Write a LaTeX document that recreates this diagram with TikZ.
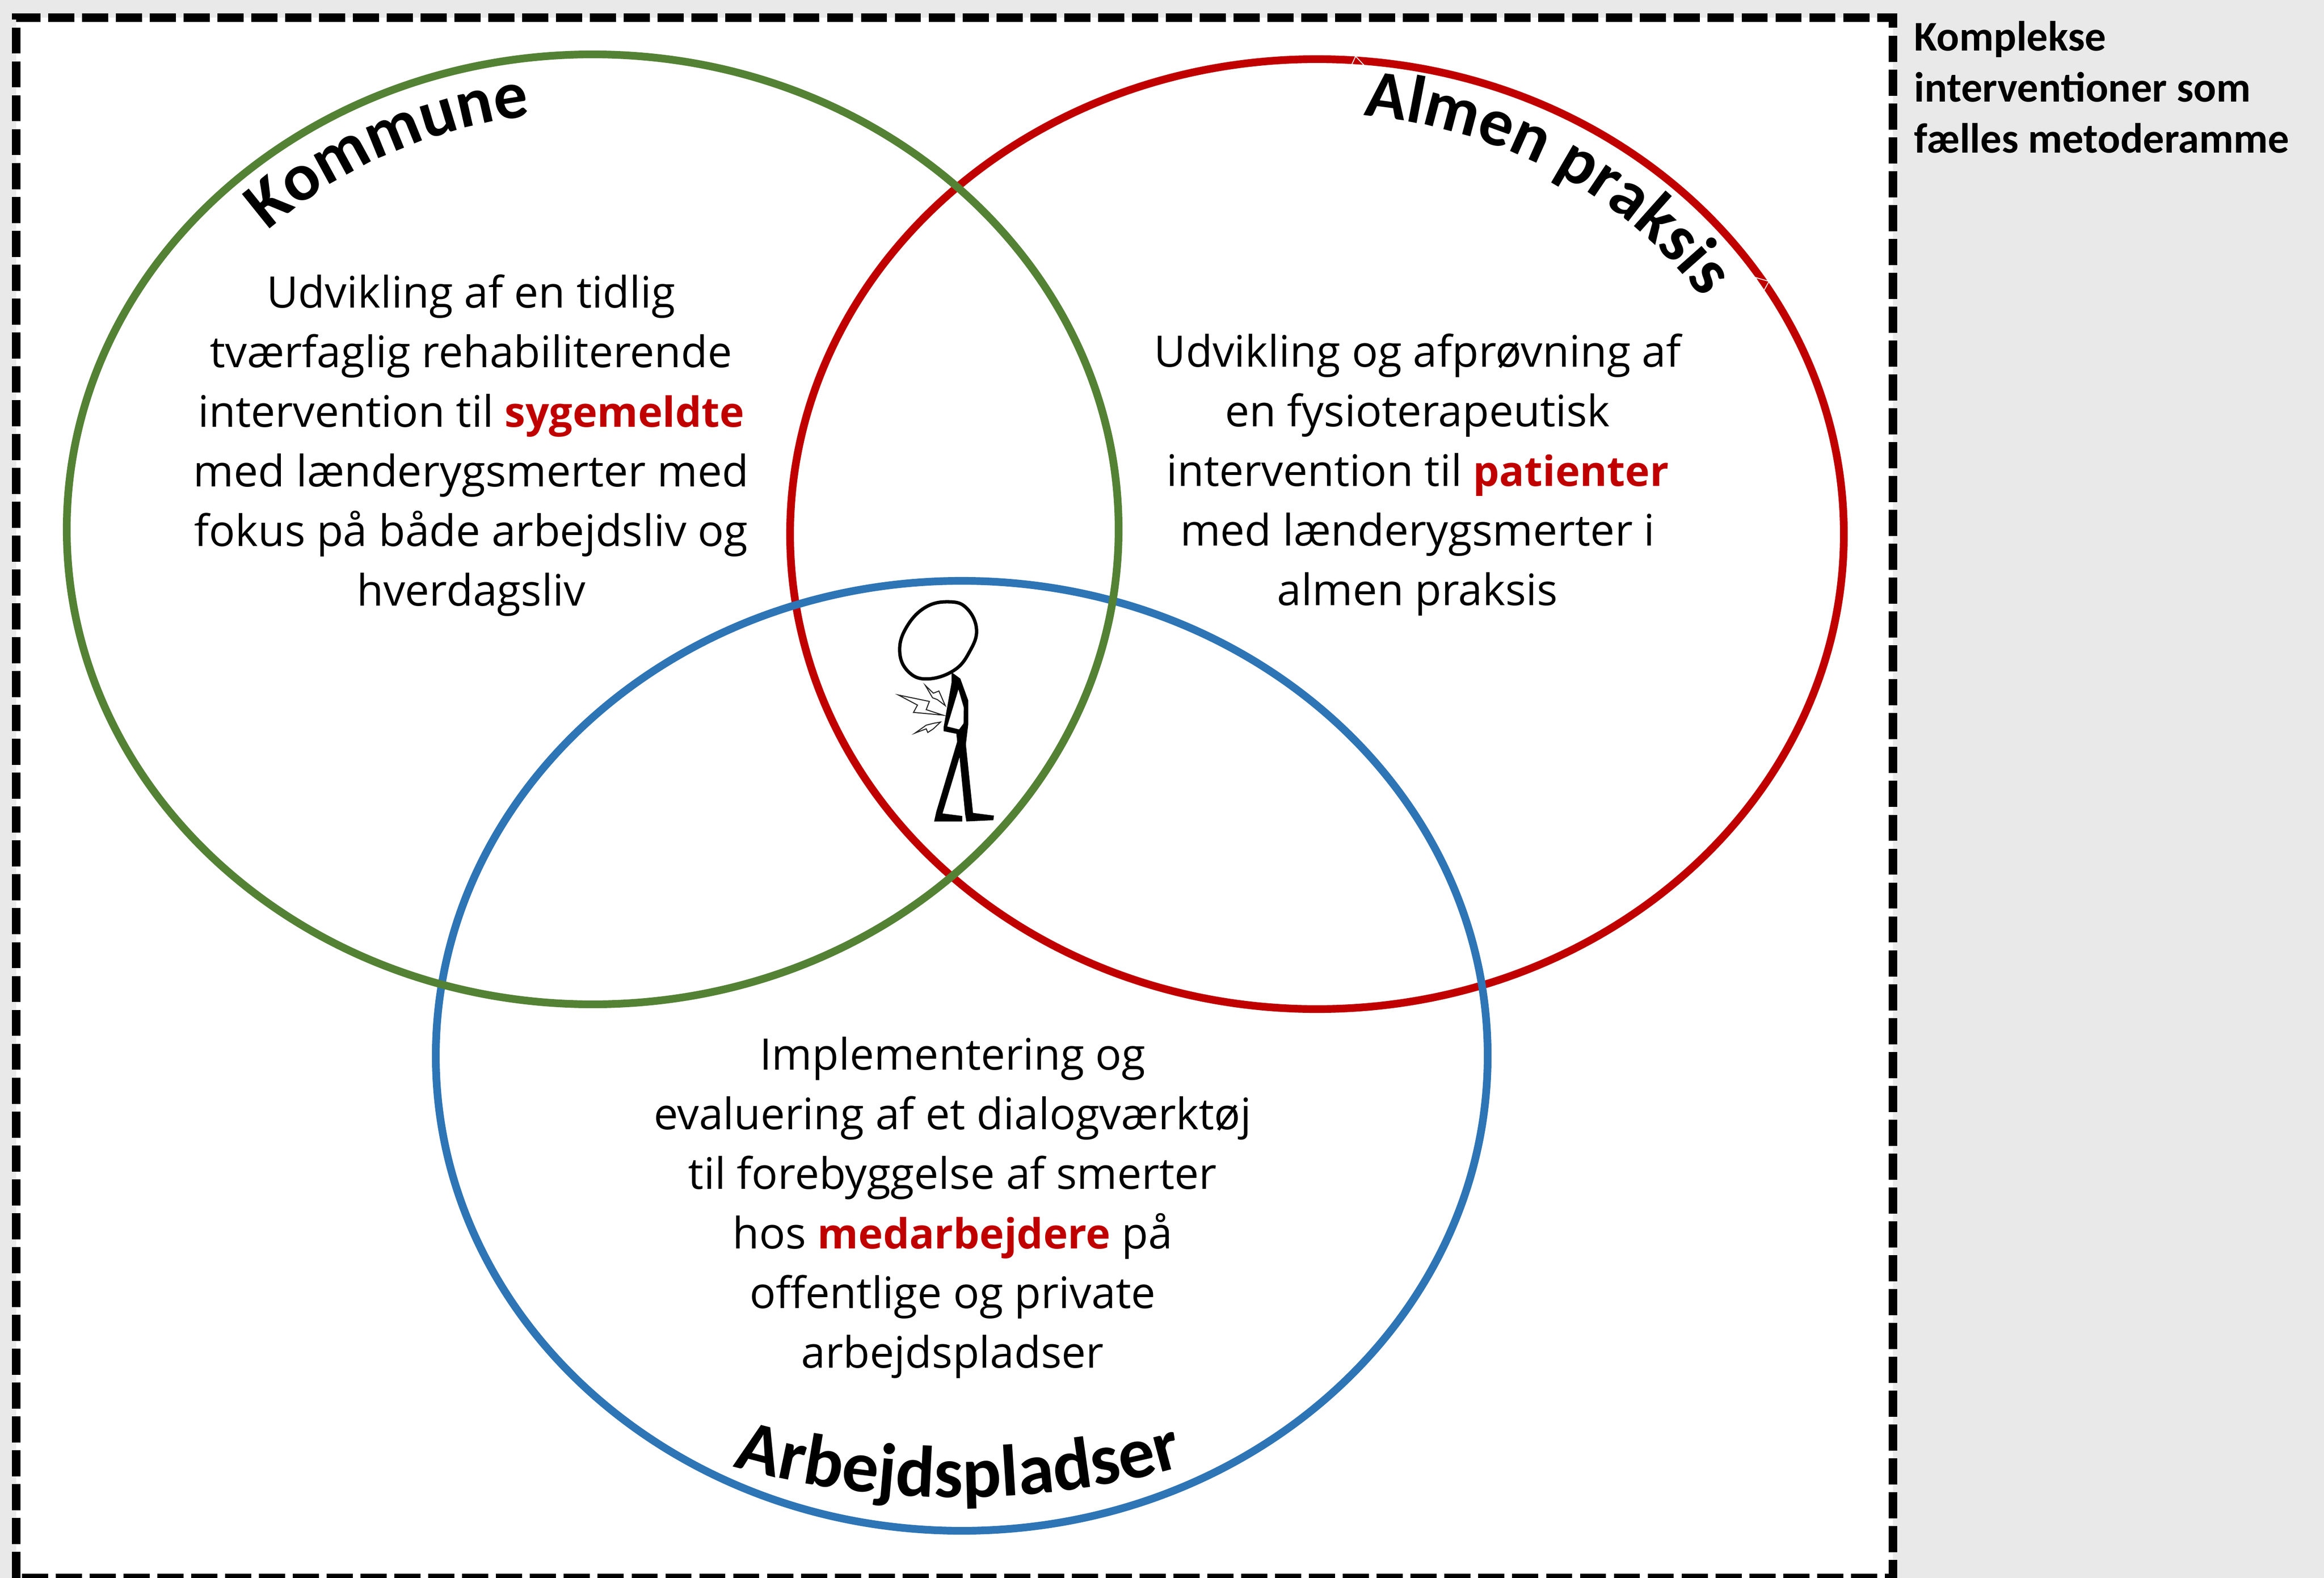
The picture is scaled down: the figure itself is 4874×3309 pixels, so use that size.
\documentclass[tikz,border=0pt]{standalone}
\usepackage{fontspec}
\setmainfont{Open Sans}
\newfontfamily\calib{Carlito}
\usetikzlibrary{decorations.text}
\definecolor{ggreen}{HTML}{548235}
\definecolor{rred}{HTML}{C00000}
\definecolor{bblue}{HTML}{2E75B6}
\definecolor{panel}{HTML}{E9E9E9}
\tikzset{
  x=0.01cm,y=-0.01cm,
  venn/.style={line width=4.6pt},
  bodytext/.style={align=center,inner sep=0pt,font=\fontsize{25.9}{35.55}\selectfont},
  sidetext/.style={align=left,anchor=north west,inner sep=0pt,font=\calib\bfseries\fontsize{25.2}{30.4}\selectfont},
  bolt/.style={draw=black!85,line width=0.6pt,line join=miter,fill=white},
  handle/.style={draw=white,line width=0.5pt},
}
\newcommand{\hl}[1]{\textcolor{rred}{\bfseries\fontsize{24.8}{35.55}\selectfont #1}}
\begin{document}
\begin{tikzpicture}
\useasboundingbox (0,0) rectangle (4874,3309);
\clip (0,0) rectangle (4874,3309);
\fill[panel] (0,0) rectangle (4874,3309);
\fill[white] (34,37) rectangle (3970,3309);
\draw[line width=5.12pt,dash pattern=on 15.6pt off 4.6pt] (34,3309) -- (34,37) -- (3970,37) -- (3970,3309) -- cycle;
% circles
\draw[venn,draw=rred] (2762,1120) ellipse [x radius=1105,y radius=996];
\draw[venn,draw=bblue] (2017,2214) ellipse [x radius=1103,y radius=996];
\draw[venn,draw=ggreen] (1243,1110) ellipse [x radius=1103,y radius=996];
% handles of the curved label
\draw[handle] (2832,142) -- (2843,118) -- (2860,136) -- cycle;
\draw[handle] (3682,582) -- (3710,590) -- (3698,612) -- cycle;
% curved labels
\path[postaction={decorate},decoration={text along path,text align=center,
  text={|\calib\bfseries\fontsize{40.5}{40.5}\selectfont|Kommune}}]
  (1243,1110) ++(-162:976 and 875) arc [start angle=-162,end angle=-72,x radius=976,y radius=875];
\path[postaction={decorate},decoration={text along path,text align=center,
  text={|\calib\bfseries\fontsize{40.5}{40.5}\selectfont|Almen praksis}}]
  (2762,1120) ++(-100:975 and 882) arc [start angle=-100,end angle=-17,x radius=975,y radius=882];
\path[postaction={decorate},decoration={text along path,text align=center,
  text={|\calib\bfseries\fontsize{43.5}{43.5}\selectfont|Arbejdspladser}}]
  (2010,2214) ++(118:1280 and 926) arc [start angle=118,end angle=62,x radius=1280,y radius=926];
% texts
\node[bodytext] (kommunetext) at (988,934) {Udvikling af en tidlig\\tværfaglig rehabiliterende\\intervention til \hl{sygemeldte}\\med lænderygsmerter med\\fokus på både arbejdsliv og\\hverdagsliv};
\node[bodytext] (praksistext) at (2973,996) {Udvikling og afprøvning af\\en fysioterapeutisk\\intervention til \hl{patienter}\\med lænderygsmerter i\\almen praksis};
\node[bodytext] (arbejdstext) at (1998,2532) {Implementering og\\evaluering af et dialogværktøj\\til forebyggelse af smerter\\hos \hl{medarbejdere} på\\offentlige og private\\arbejdspladser};
\node[sidetext] (sidelabel) at (4014,44) {Komplekse\\interventioner som\\fælles metoderamme};
% stick figure
\begin{scope}[shift={(18cm,-12cm)},x=0.00333cm,y=-0.00383cm]
  \draw[line width=2pt,fill=white] plot[smooth cycle,tension=0.7] coordinates {(570,160) (680,195) (742,310) (700,430) (600,535) (430,582) (310,540) (258,430) (300,300) (420,190)};
  \fill[black] (585,545) -- (640,580) -- (690,700) -- (690,830) -- (675,940) -- (720,1315) -- (852,1330) -- (848,1355) -- (678,1362) -- (670,1320) -- (635,1010) -- (528,1318) -- (652,1332) -- (652,1362) -- (475,1362) -- (488,1310) -- (620,925) -- (615,882) -- (535,868) -- (535,845) -- (585,600) -- cycle;
  \fill[white] (628,640) -- (662,740) -- (660,825) -- (632,858) -- (558,842) -- cycle;
  \draw[bolt] (420,618) -- (470,660) -- (505,648) -- (545,728) -- (495,695) -- (465,685) -- cycle;
  \draw[bolt] (250,670) -- (445,705) -- (425,750) -- (530,780) -- (345,765) -- (370,725) -- cycle;
  \draw[bolt] (355,878) -- (425,835) -- (470,825) -- (515,818) -- (470,855) -- (435,875) -- (425,855) -- cycle;
\end{scope}
\end{tikzpicture}
\end{document}
